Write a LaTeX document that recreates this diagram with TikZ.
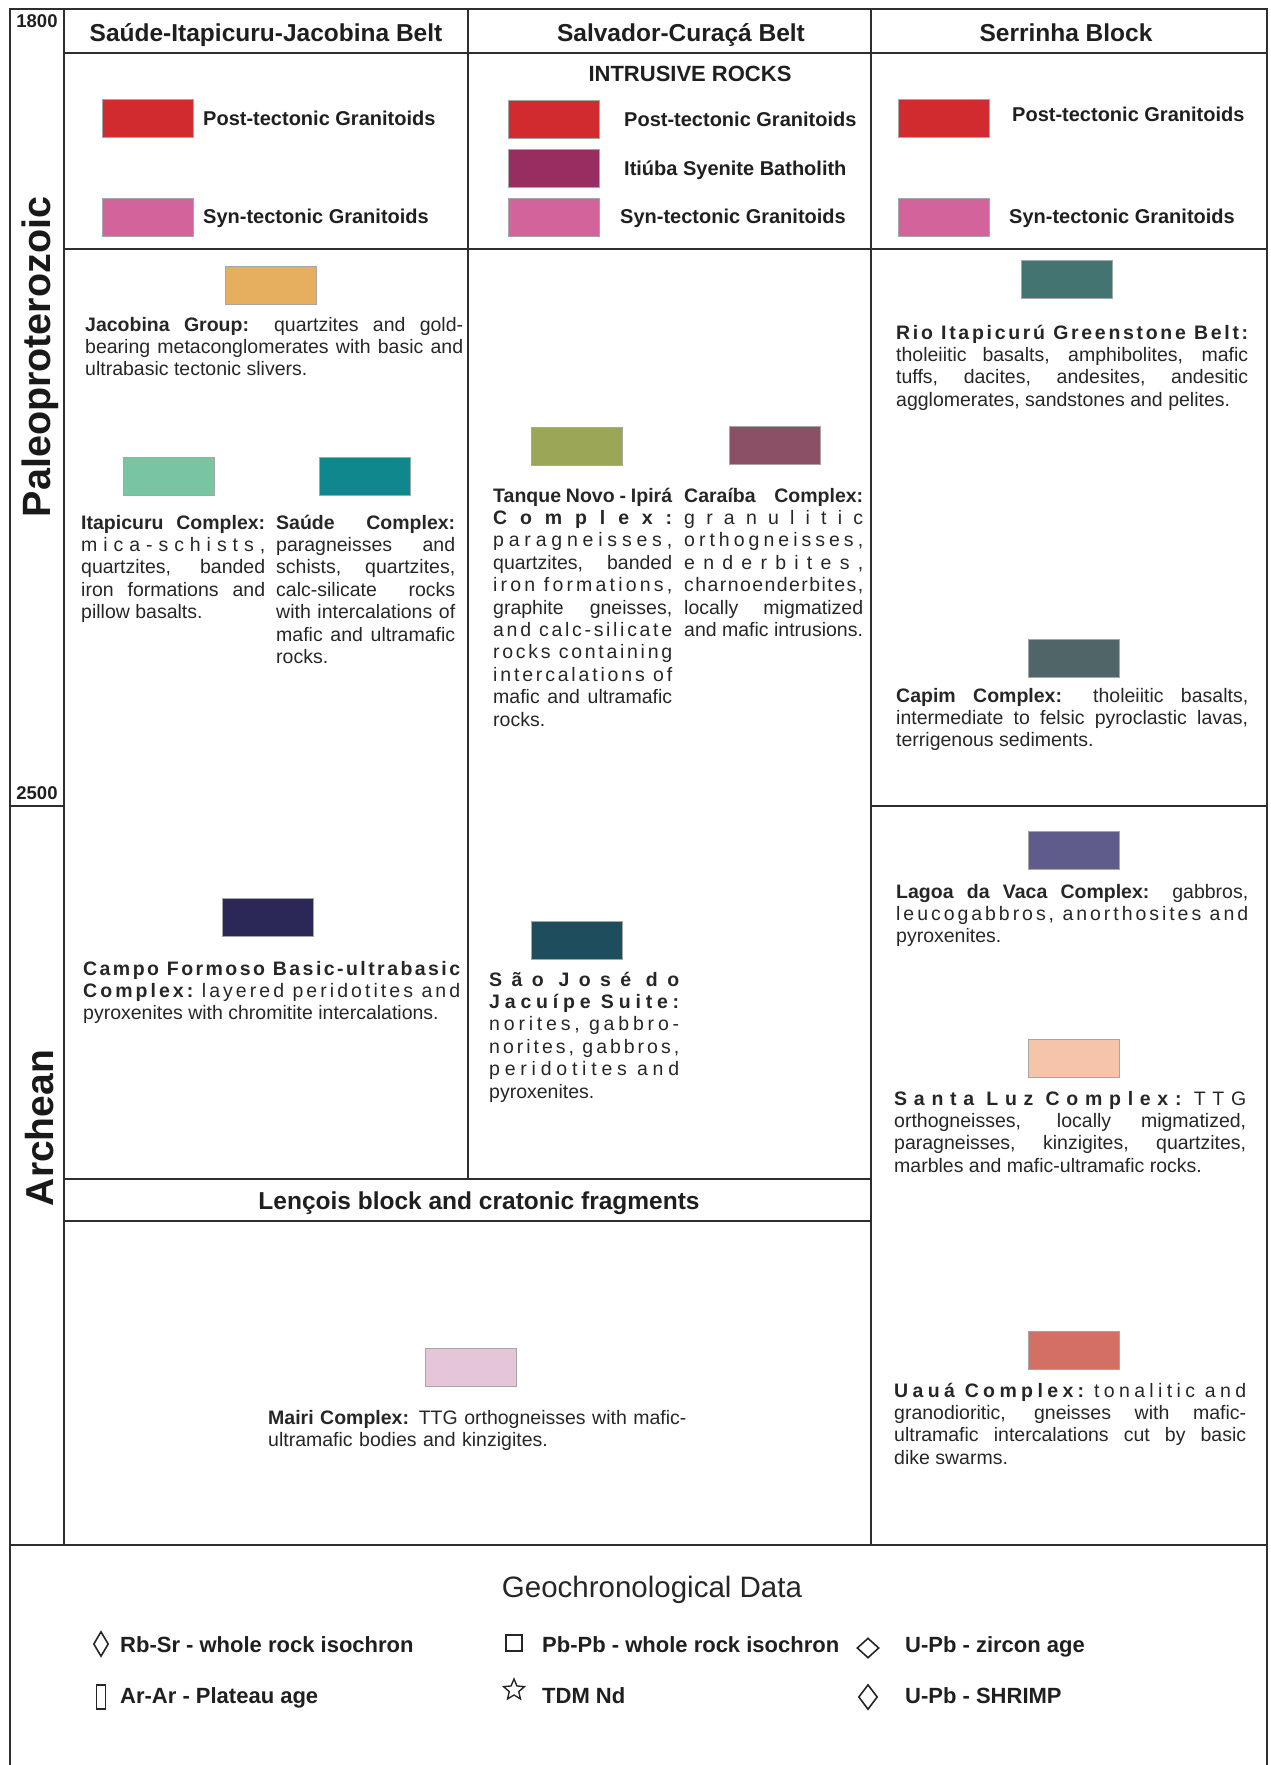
\documentclass[tikz,border=0pt]{standalone}
\usepackage{xcolor}
\usepackage{fontspec}
\setmainfont{Liberation Sans}
\usepackage{tikz}
\usetikzlibrary{shapes.geometric}
\setlength{\parindent}{0pt}
\definecolor{postred}{HTML}{D12B30}
\definecolor{synpink}{HTML}{D3649B}
\definecolor{itiuba}{HTML}{972D60}
\definecolor{jacobina}{HTML}{E6AF5E}
\definecolor{itapicuru}{HTML}{79C4A1}
\definecolor{saude}{HTML}{0F878D}
\definecolor{tanque}{HTML}{9BA757}
\definecolor{caraiba}{HTML}{8B5066}
\definecolor{riogreen}{HTML}{447471}
\definecolor{capim}{HTML}{4F6568}
\definecolor{campo}{HTML}{2B2757}
\definecolor{saojose}{HTML}{1E4D5D}
\definecolor{lagoa}{HTML}{5F5C8B}
\definecolor{santaluz}{HTML}{F6C4AA}
\definecolor{uaua}{HTML}{D46F63}
\definecolor{mairi}{HTML}{E5C5D8}
\makeatletter
\def\sw@bf{\bfseries}
\def\sw@md{\mdseries}
\def\sw@letters#1{\@tfor\sw@c:=#1\do{\sw@c\ifx\sw@c\sw@bf\else\ifx\sw@c\sw@md\else\hfil\fi\fi}\unskip}
\def\sw@words#1 #2\@nil{\sw@letters{#1}\ifx\relax#2\relax\else\hskip.28em plus1fil\relax\sw@words#2\@nil\fi}
\newcommand\spreadln[1]{\leavevmode\hbox to\hsize{\sw@words#1 \@nil}}
\newcommand\jl[1]{\leavevmode\hbox to\hsize{#1}}
\makeatother

\begin{document}
\begin{tikzpicture}[x=1pt,y=-1pt,
  ruling/.style={line width=2.2pt,black!82},
  swatch/.style={draw=black!35,line width=0.6pt,minimum width=91pt,minimum height=38pt},
  desc/.style={anchor=base west,text=black!85,align=justify,font=\fontsize{19.5}{22.4}\selectfont},
  head/.style={anchor=base,text=black!88,font=\fontsize{24.5}{27}\selectfont\bfseries},
  intr/.style={anchor=base west,text=black!88,font=\fontsize{20}{22}\selectfont\bfseries},
  era/.style={rotate=90,text=black!90,font=\fontsize{39.5}{41}\selectfont\bfseries},
  age/.style={text=black!88,font=\fontsize{18.5}{20}\selectfont\bfseries},
  geo/.style={anchor=base west,text=black!88,font=\fontsize{22}{24}\selectfont\bfseries},
  geosym/.style={draw=black!85,line width=1.6pt}]
\tikzstyle{every node}+=[inner sep=0pt]
\useasboundingbox (0,0) rectangle (1270,1765);
\draw [ruling] (10,1765) -- (10,9) -- (1267,9) -- (1267,1765);
\draw [ruling] (64,9) -- (64,1545);
\draw [ruling] (64,53) -- (1267,53);
\draw [ruling] (468,9) -- (468,1179);
\draw [ruling] (871,9) -- (871,1545);
\draw [ruling] (64,249) -- (1267,249);
\draw [ruling] (10,806) -- (64,806);
\draw [ruling] (871,806) -- (1267,806);
\draw [ruling] (64,1179) -- (871,1179);
\draw [ruling] (64,1221) -- (871,1221);
\draw [ruling] (10,1545) -- (1267,1545);
\node [age] (a1800) at (37,21) {1800};
\node [age] (a2500) at (37,793) {2500};
\node [era] (paleo) at (40,357) {Paleoproterozoic};
\node [era,font=\fontsize{39}{41}\selectfont\bfseries] (arch) at (40,1128) {Archean};
\node [head] (hsij) at (266,41) {Saúde-Itapicuru-Jacobina Belt};
\node [head] (hsc) at (681,41) {Salvador-Curaçá Belt};
\node [head] (hser) at (1066,41) {Serrinha Block};
\node [intr,anchor=base,font=\fontsize{22}{24}\selectfont\bfseries] (intrus) at (690,81) {INTRUSIVE ROCKS};
\node [swatch,fill=postred] (s1post) at (148,118) {};
\node [intr] (l1post) at (203,125) {Post-tectonic Granitoids};
\node [swatch,fill=synpink] (s1syn) at (148,217) {};
\node [intr] (l1syn) at (203,223) {Syn-tectonic Granitoids};
\node [swatch,fill=postred] (s2post) at (554,119) {};
\node [intr] (l2post) at (624,126) {Post-tectonic Granitoids};
\node [swatch,fill=itiuba] (s2iti) at (554,168) {};
\node [intr] (l2iti) at (624,175) {Itiúba Syenite Batholith};
\node [swatch,fill=synpink] (s2syn) at (554,217) {};
\node [intr] (l2syn) at (620,223) {Syn-tectonic Granitoids};
\node [swatch,fill=postred] (s3post) at (944,118) {};
\node [intr] (l3post) at (1012,121) {Post-tectonic Granitoids};
\node [swatch,fill=synpink] (s3syn) at (944,217) {};
\node [intr] (l3syn) at (1009,223) {Syn-tectonic Granitoids};
\node [swatch,fill=jacobina] (sjac) at (271,285) {};
\node [desc,text width=378pt] (djac) at (85,331) {\jl{\textbf{Jacobina Group:} quartzites and gold-}\par\jl{bearing metaconglomerates with basic and}\par ultrabasic tectonic slivers.};
\node [swatch,fill=itapicuru] (sita) at (169,476) {};
\node [desc,text width=184pt] (dita) at (81,529) {\jl{\textbf{Itapicuru Complex:}}\par\spreadln{mica-schists,}\par\jl{quartzites, banded}\par\jl{iron formations and}\par pillow basalts.};
\node [swatch,fill=saude] (ssau) at (365,476) {};
\node [desc,text width=179pt] (dsau) at (276,529) {\jl{\textbf{Saúde Complex:}}\par\jl{paragneisses and}\par\jl{schists, quartzites,}\par\jl{calc-silicate rocks}\par\jl{with intercalations of}\par\jl{mafic and ultramafic}\par rocks.};
\node [swatch,fill=campo] (scam) at (268,917) {};
\node [desc,text width=377pt] (dcam) at (83,975) {\spreadln{\bfseries Campo Formoso Basic-ultrabasic}\par\spreadln{\bfseries Complex: \mdseries layered peridotites and}\par pyroxenites with chromitite intercalations.};
\node [swatch,fill=tanque] (stan) at (577,446) {};
\node [desc,text width=179pt] (dtan) at (493,502) {\jl{\textbf{Tanque Novo - Ipirá}}\par\spreadln{\bfseries Complex:}\par\spreadln{paragneisses,}\par\jl{quartzites, banded}\par\spreadln{iron formations,}\par\jl{graphite gneisses,}\par\spreadln{and calc-silicate}\par\spreadln{rocks containing}\par\spreadln{intercalations of}\par\jl{mafic and ultramafic}\par rocks.};
\node [swatch,fill=caraiba] (scar) at (775,445) {};
\node [desc,text width=179pt] (dcar) at (684,502) {\jl{\textbf{Caraíba Complex:}}\par\spreadln{granulitic}\par\spreadln{orthogneisses,}\par\spreadln{enderbites,}\par\spreadln{charnoenderbites,}\par\jl{locally migmatized}\par\mbox{and mafic intrusions.}};
\node [swatch,fill=saojose] (ssjo) at (577,940) {};
\node [desc,text width=190pt] (dsjo) at (489,986) {\spreadln{\bfseries São José do}\par\spreadln{\bfseries Jacuípe Suite:}\par\spreadln{norites, gabbro-}\par\spreadln{norites, gabbros,}\par\spreadln{peridotites and}\par pyroxenites.};
\node [swatch,fill=riogreen] (srio) at (1067,279) {};
\node [desc,text width=352pt] (drio) at (896,339) {\spreadln{\bfseries Rio Itapicurú Greenstone Belt:}\par\jl{tholeiitic basalts, amphibolites, mafic}\par\jl{tuffs, dacites, andesites, andesitic}\par agglomerates, sandstones and pelites.};
\node [swatch,fill=capim] (scap) at (1074,658) {};
\node [desc,text width=352pt] (dcap) at (896,702) {\jl{\textbf{Capim Complex:} tholeiitic basalts,}\par\jl{intermediate to felsic pyroclastic lavas,}\par terrigenous sediments.};
\node [swatch,fill=lagoa] (slag) at (1074,850) {};
\node [desc,text width=352pt] (dlag) at (896,898) {\jl{\textbf{Lagoa da Vaca Complex:} gabbros,}\par\spreadln{leucogabbros, anorthosites and}\par pyroxenites.};
\node [swatch,fill=santaluz] (ssan) at (1074,1058) {};
\node [desc,text width=352pt] (dsan) at (894,1105) {\spreadln{\bfseries Santa Luz Complex: \mdseries TTG}\par\jl{orthogneisses, locally migmatized,}\par\jl{paragneisses, kinzigites, quartzites,}\par marbles and mafic-ultramafic rocks.};
\node [swatch,fill=uaua] (suau) at (1074,1350) {};
\node [desc,text width=352pt] (duau) at (894,1397) {\spreadln{\bfseries Uauá Complex: \mdseries tonalitic and}\par\jl{granodioritic, gneisses with mafic-}\par\jl{ultramafic intercalations cut by basic}\par dike swarms.};
\node [head] (hlen) at (479,1209) {Lençois block and cratonic fragments};
\node [swatch,fill=mairi] (smai) at (471,1367) {};
\node [desc,text width=440pt,align=left,font=\fontsize{19.5}{22.4}\selectfont] (dmai) at (268,1424) {\textbf{Mairi Complex:} TTG orthogneisses with mafic-\\ultramafic bodies and kinzigites.};
\node [anchor=base,text=black!85,font=\fontsize{29.5}{31}\selectfont] (geotitle) at (652,1597) {Geochronological Data};
\node [geosym,diamond,minimum width=15pt,minimum height=25pt] (krbsr) at (101,1644) {};
\node [geo] (trbsr) at (120,1652) {Rb-Sr - whole rock isochron};
\node [geosym,rectangle,minimum width=16pt,minimum height=16pt] (kpbpb) at (514,1643) {};
\node [geo] (tpbpb) at (542,1652) {Pb-Pb - whole rock isochron};
\node [geosym,diamond,minimum width=22pt,minimum height=20pt] (kupbz) at (868,1648) {};
\node [geo] (tupbz) at (905,1652) {U-Pb - zircon age};
\node [geosym,rectangle,minimum width=9pt,minimum height=24pt] (karar) at (101,1697) {};
\node [geo] (tarar) at (120,1703) {Ar-Ar - Plateau age};
\node [geosym,star,star points=5,star point ratio=2.2,minimum size=22pt,line width=1.4pt] (ktdm) at (514,1690) {};
\node [geo] (ttdm) at (542,1703) {TDM Nd};
\node [geosym,diamond,minimum width=19pt,minimum height=25pt] (kupbs) at (868,1697) {};
\node [geo] (tupbs) at (905,1703) {U-Pb - SHRIMP};
\end{tikzpicture}
\end{document}
